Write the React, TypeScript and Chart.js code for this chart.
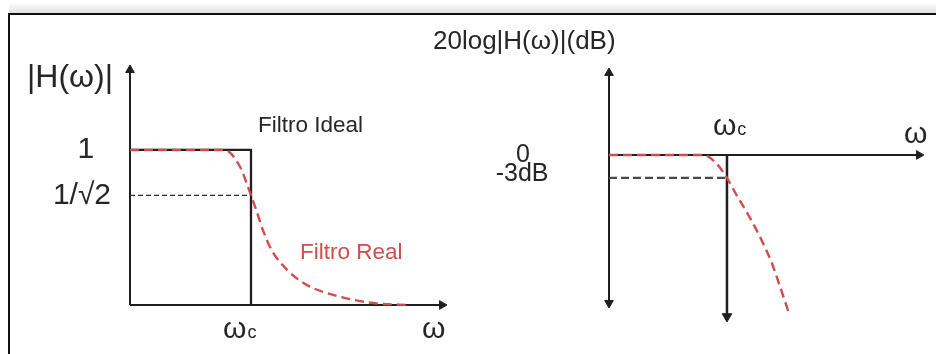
import React, { useEffect, useRef } from "react";
import { Chart, registerables } from "chart.js";

Chart.register(...registerables);

const FONT = "'Liberation Sans', Arial, Helvetica, sans-serif";
const INK = "#1f1f1f";
const TEXT = "#262626";
const RED = "#d24c4c";

// ---------- Left panel: |H(ω)| against ω (ω in units of ωc) ----------
const realOmega = [0, 0.4, 0.78, 0.91, 1.0, 1.04, 1.1, 1.17, 1.3, 1.46, 1.68, 1.87, 2.04, 2.31];
const realMag = [1, 1, 1, 0.89, 0.707, 0.62, 0.48, 0.355, 0.226, 0.13, 0.065, 0.03, 0.01, 0];
const idealOmega = [0, 1, 1];
const idealMag = [1, 1, 0];
const halfPowerOmega = [0, 1];
const halfPowerMag = [0.7071, 0.7071];
const magAxisOmega = [0, 2.579];
const magAxisMag = [0, 1.516];
const magTickValues = [1, 0.7071];
const magTickLabels = ["1", "1/√2"];

// ---------- Right panel: 20log|H(ω)| (dB) against ω ----------
const bodeOmega = [0, 0.4, 0.8, 0.91, 1.0, 1.08, 1.18, 1.28, 1.38, 1.45, 1.52];
const bodeDb = [0, 0, 0, -1.1, -3, -5.2, -7.8, -10.7, -14.1, -17.2, -20.4];
const cutoffOmega = [0, 1];
const cutoffDb = [-3, -3];
const cutoffLineDb = [0, -21.08];
const dbAxisOmega = [0, 2.627];
const dbAxisDb = [-19.32, 10.7];
const dbTickValues = [0, -3];
const dbTickLabels = ["0", "-3dB"];

type Label = {
  text: string;
  sub?: string;
  x: number;
  y: number;
  size: number;
  subSize?: number;
  color?: string;
  align?: CanvasTextAlign;
};

const pts = (xs: number[], ys: number[]) => xs.map((x, i) => ({ x, y: ys[i] }));

const textPlugin = {
  id: "texts",
  afterDatasetsDraw(chart: any, _args: any, opts: any) {
    const { ctx } = chart;
    const xs = chart.scales.x;
    const ys = chart.scales.y;
    (opts.items || []).forEach((l: Label) => {
      const px = xs.getPixelForValue(l.x);
      const py = ys.getPixelForValue(l.y);
      ctx.save();
      ctx.fillStyle = l.color || TEXT;
      ctx.textBaseline = "middle";
      ctx.textAlign = l.align || "left";
      ctx.font = `${l.size}px ${FONT}`;
      ctx.fillText(l.text, px, py);
      if (l.sub) {
        const w = ctx.measureText(l.text).width;
        ctx.textAlign = "left";
        ctx.textBaseline = "alphabetic";
        ctx.font = `${l.subSize || 14}px ${FONT}`;
        ctx.fillText(l.sub, px + w + 1, py + l.size * 0.28);
      }
      ctx.restore();
    });
  },
};

function lineSet(xs: number[], ys: number[], o: any) {
  return {
    data: pts(xs, ys),
    borderColor: o.color || INK,
    borderWidth: o.width || 2,
    borderDash: o.dash || [],
    pointRadius: o.radius || 0,
    pointStyle: "triangle",
    pointRotation: o.rotation || 0,
    pointBackgroundColor: o.color || INK,
    pointBorderColor: o.color || INK,
    pointBorderWidth: 1,
    tension: 0,
    cubicInterpolationMode: o.smooth ? "monotone" : "default",
    fill: false,
    clip: false,
  };
}

function baseOptions(xMin: number, xMax: number, yMin: number, yMax: number, padding: any, items: Label[]) {
  return {
    responsive: false,
    animation: false,
    devicePixelRatio: 1,
    layout: { padding },
    events: [],
    scales: {
      x: { type: "linear", min: xMin, max: xMax, display: false },
      y: { type: "linear", min: yMin, max: yMax, display: false },
    },
    plugins: {
      legend: { display: false },
      tooltip: { enabled: false },
      texts: { items },
    },
  };
}

function leftConfig(): any {
  const labels: Label[] = [
    { text: "|H(ω)|", x: -0.14, y: 1.465, size: 32, align: "right" },
    { text: magTickLabels[0], x: -0.364, y: magTickValues[0], size: 30, align: "center" },
    { text: magTickLabels[1], x: -0.397, y: magTickValues[1], size: 30, align: "center" },
    { text: "ω", sub: "c", x: 0.769, y: -0.161, size: 30, subSize: 18 },
    { text: "ω", x: 2.413, y: -0.161, size: 30 },
    { text: "Filtro Ideal", x: 1.058, y: 1.155, size: 22.5 },
    { text: "Filtro Real", x: 1.405, y: 0.335, size: 22.5, color: RED },
  ];
  return {
    type: "line",
    data: {
      datasets: [
        lineSet(realOmega, realMag, { color: RED, width: 2.4, dash: [9, 5], smooth: true }),
        lineSet(idealOmega, idealMag, { width: 2.3 }),
        lineSet(halfPowerOmega, halfPowerMag, { width: 1.3, dash: [5, 3], color: "#333" }),
        lineSet(magAxisOmega, [0, 0], { width: 2.2, radius: [0, 5], rotation: [90, 90] }),
        lineSet([0, 0], magAxisMag, { width: 2, radius: [0, 5], rotation: [0, 0] }),
      ],
    },
    options: baseOptions(0, 2.62, 0, 1.548, { left: 130, right: 21, top: 65, bottom: 49 }, labels),
    plugins: [textPlugin],
  };
}

function rightConfig(): any {
  const labels: Label[] = [
    { text: "20log|H(ω)|(dB)", x: -1.492, y: 14.75, size: 26 },
    { text: dbTickLabels[0], x: -0.729, y: dbTickValues[0], size: 25, align: "center" },
    { text: dbTickLabels[1], x: -0.737, y: -2.55, size: 25, align: "center" },
    { text: "ω", sub: "c", x: 0.881, y: 3.66, size: 30, subSize: 18 },
    { text: "ω", x: 2.5, y: 2.61, size: 30 },
  ];
  return {
    type: "line",
    data: {
      datasets: [
        lineSet(bodeOmega, bodeDb, { color: RED, width: 2.4, dash: [9, 5], smooth: true }),
        lineSet(cutoffOmega, cutoffDb, { width: 2.3, dash: [8, 4], color: "#4a4a4a" }),
        lineSet([1, 1], cutoffLineDb, { width: 2.5, radius: [0, 5.5], rotation: [180, 180] }),
        lineSet(dbAxisOmega, [0, 0], { width: 2, radius: [0, 5], rotation: [90, 90] }),
        lineSet([0, 0], dbAxisDb, { width: 2, radius: [5, 5], rotation: [180, 0] }),
      ],
    },
    options: baseOptions(0, 2.67, -21.8, 11.35, { left: 189, right: 12, top: 68, bottom: 32 }, labels),
    plugins: [textPlugin],
  };
}

function Panel({ make, left, width }: { make: () => any; left: number; width: number }) {
  const ref = useRef<HTMLCanvasElement | null>(null);
  useEffect(() => {
    if (!ref.current) return;
    const chart = new Chart(ref.current, make());
    return () => chart.destroy();
  }, [make]);
  return (
    <canvas
      ref={ref}
      width={width}
      height={354}
      style={{ position: "absolute", left, top: 0, width, height: 354 }}
    />
  );
}

export default function App() {
  return (
    <div style={{ position: "absolute", left: 0, top: 0, width: 936, height: 354, background: "#fff", overflow: "hidden" }}>
      <div
        style={{
          position: "absolute",
          left: 9,
          top: 2,
          width: 927,
          height: 11,
          background: "linear-gradient(to bottom, #ffffff, #e2e2e2)",
        }}
      />
      <div
        style={{
          position: "absolute",
          left: 8,
          top: 13,
          width: 928,
          height: 341,
          boxSizing: "border-box",
          borderTop: "2.5px solid #111",
          borderLeft: "2.5px solid #111",
        }}
      />
      <Panel make={leftConfig} left={0} width={468} />
      <Panel make={rightConfig} left={420} width={516} />
    </div>
  );
}
